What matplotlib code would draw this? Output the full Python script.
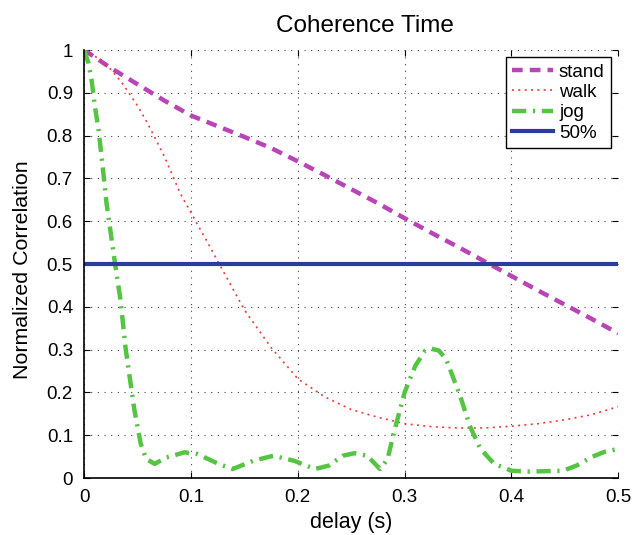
import matplotlib.pyplot as plt

plt.rcParams['font.family'] = ['Liberation Sans', 'DejaVu Sans']

# stand: long dashed curve
stand_x = [0, 0.025, 0.05, 0.075, 0.1, 0.125, 0.15, 0.175, 0.2, 0.225, 0.25,
           0.275, 0.3, 0.325, 0.35, 0.375, 0.4, 0.425, 0.45, 0.475, 0.5]
stand_y = [1.0, 0.958, 0.92, 0.882, 0.847, 0.822, 0.797, 0.771, 0.74, 0.708, 0.675,
           0.642, 0.607, 0.573, 0.54, 0.506, 0.472, 0.438, 0.405, 0.372, 0.338]

# walk: dotted curve
walk_x = [0, 0.015, 0.025, 0.035, 0.05, 0.06, 0.075, 0.09, 0.1, 0.115, 0.125, 0.15, 0.175,
          0.2, 0.225, 0.25, 0.275, 0.3, 0.325, 0.35, 0.375, 0.4, 0.425, 0.45, 0.475, 0.5]
walk_y = [1.0, 0.978, 0.955, 0.925, 0.87, 0.826, 0.752, 0.665, 0.62, 0.553, 0.507, 0.393, 0.305,
          0.232, 0.19, 0.16, 0.142, 0.127, 0.12, 0.117, 0.117, 0.121, 0.127, 0.136, 0.148, 0.167]

# jog: dash-dot curve
jog_x = [0, 0.004, 0.007, 0.010, 0.0135, 0.017, 0.021, 0.0245, 0.029, 0.034, 0.039, 0.047,
         0.053, 0.058, 0.066, 0.077, 0.094, 0.106, 0.126, 0.139, 0.158, 0.177, 0.197, 0.216,
         0.229, 0.242, 0.253, 0.265, 0.277, 0.284, 0.29, 0.3, 0.31, 0.319, 0.325, 0.332,
         0.339, 0.352, 0.361, 0.371, 0.384, 0.4, 0.416, 0.448, 0.461, 0.474, 0.487, 0.5]
jog_y = [1.0, 0.97, 0.93, 0.87, 0.814, 0.736, 0.642, 0.58, 0.5, 0.417, 0.30, 0.16,
         0.08, 0.045, 0.033, 0.048, 0.06, 0.056, 0.033, 0.021, 0.04, 0.052, 0.04, 0.021,
         0.029, 0.052, 0.058, 0.052, 0.021, 0.044, 0.106, 0.20, 0.262, 0.297, 0.302, 0.298,
         0.277, 0.192, 0.122, 0.068, 0.033, 0.017, 0.015, 0.017, 0.029, 0.048, 0.061, 0.068]

half_level = 0.5

fig = plt.figure(figsize=(6.42, 5.35), dpi=100)
ax = fig.add_axes([0.131, 0.1065, 0.832, 0.8])

ax.plot(stand_x, stand_y, color='#b844b8', lw=3.2, ls=(0, (2.4, 1.6)), label='stand')
ax.plot(walk_x, walk_y, color='#f03a3a', lw=1.2, ls=(0, (1.2, 2.6)), label='walk')
ax.plot(jog_x, jog_y, color='#55c443', lw=3.2, ls=(0, (3.2, 1.5, 0.5, 1.5)), label='jog')
ax.axhline(half_level, color='#2a3d9c', lw=3, label='50%')

ax.set_xlim(0, 0.5)
ax.set_ylim(0, 1)
ax.set_xticks([0, 0.1, 0.2, 0.3, 0.4, 0.5])
ax.set_xticklabels(['0', '0.1', '0.2', '0.3', '0.4', '0.5'])
ax.set_yticks([i / 10 for i in range(11)])
ax.set_yticklabels(['0'] + [f'0.{i}' for i in range(1, 10)] + ['1'])
ax.tick_params(direction='in', labelsize=13.5, top=True, right=True, length=4, pad=8)
ax.grid(True, ls=(0, (1, 5)), color='#444444', lw=0.8)

for side in ['top', 'right']:
    ax.spines[side].set_visible(False)
for side in ['left', 'bottom']:
    ax.spines[side].set_linewidth(1.2)

ax.set_xlabel('delay (s)', fontsize=15.5, labelpad=4)
fig.text(22.5 / 642, 1 - 270 / 535, 'Normalized Correlation', fontsize=15.4,
         rotation=90, ha='center', va='center')
fig.text(364.5 / 642, 1 - 32 / 535, 'Coherence Time', fontsize=17.5,
         ha='center', va='baseline')

leg = ax.legend(loc='upper right', fontsize=13.5, handlelength=2.2, fancybox=False,
                framealpha=1, edgecolor='black', borderpad=0.35, labelspacing=0.17,
                handletextpad=0.3, borderaxespad=0.37)
leg.get_frame().set_linewidth(1.0)

fig.savefig('out.png', dpi=100)
